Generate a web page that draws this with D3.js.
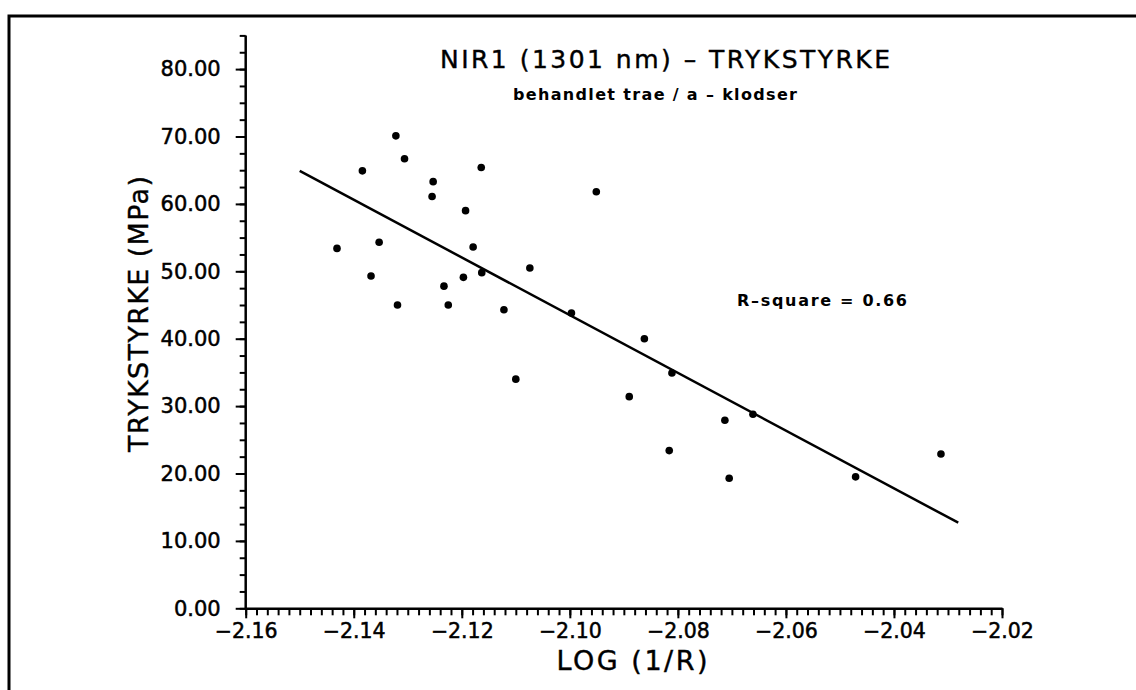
<!DOCTYPE html>
<html>
<head>
<meta charset="utf-8">
<script src="https://cdn.jsdelivr.net/npm/d3@7"></script>
<style>
    body { margin: 0; background: #fff; }
    svg { display: block; }
    text { font-family: "DejaVu Sans", sans-serif; fill: #000; }
</style>
</head>
<body>
<div id="chart"></div>
<script>
// log(1/R) values of the samples
var logR = [-2.1322, -2.1306, -2.1384, -2.1164, -2.1253, -2.1255, -2.1193, -2.0951,
    -2.1431, -2.1353, -2.1179, -2.1368, -2.1197, -2.1163, -2.1074, -2.1233,
    -2.1319, -2.1225, -2.1122, -2.0997, -2.0862, -2.1100, -2.0811, -2.0890,
    -2.0661, -2.0713, -2.0816, -2.0705, -2.0471, -2.0313];
// trykstyrke (MPa) of the samples
var strength = [70.1, 66.7, 64.9, 65.4, 63.3, 61.1, 59.0, 61.8,
    53.4, 54.3, 53.6, 49.3, 49.1, 49.8, 50.5, 47.8,
    45.0, 45.0, 44.3, 43.8, 40.0, 34.0, 34.9, 31.4,
    28.8, 27.9, 23.4, 19.3, 19.5, 22.9];

// regression line end points
var fitX = [-2.150, -2.0281];
var fitY = [64.9, 12.7];

var xTicks = [-2.16, -2.14, -2.12, -2.10, -2.08, -2.06, -2.04, -2.02];
var yTicks = [0, 10, 20, 30, 40, 50, 60, 70, 80];

var title = "NIR1  (1301  nm)  \u2013  TRYKSTYRKE";
var subtitle = "behandlet  trae  /  a  \u2013  klodser";
var rLabel = "R\u2013square  =  0.66";
var xLabel = "LOG  (1/R)";
var yLabel = "TRYKSTYRKE  (MPa)";

var width = 1136, height = 690;

var svg = d3.select("#chart").append("svg")
    .attr("width", width)
    .attr("height", height);

// outer frame (right / bottom edges are outside the picture)
svg.append("path")
    .attr("d", "M9,700 L9,16 L1140,16")
    .attr("fill", "none")
    .attr("stroke", "#000")
    .attr("stroke-width", 3);

var x = d3.scaleLinear().domain([-2.16, -2.02]).range([245.7, 1002]);
var y = d3.scaleLinear().domain([0, 85]).range([608.3, 35.4]);

// minor ticks
var xMinor = d3.range(0, 71).map(i => -2.16 + i * 0.002);
var yMinor = d3.range(0, 35).map(i => i * 2.5);
svg.append("g")
    .attr("transform", "translate(0," + y(0) + ")")
    .call(d3.axisBottom(x).tickValues(xMinor).tickSize(7).tickFormat("").tickSizeOuter(0))
    .call(g => g.select(".domain").remove());
svg.append("g")
    .attr("transform", "translate(" + x(-2.16) + ",0)")
    .call(d3.axisLeft(y).tickValues(yMinor).tickSize(6).tickFormat("").tickSizeOuter(0))
    .call(g => g.select(".domain").remove());

// major ticks + labels
var xAxis = svg.append("g")
    .attr("transform", "translate(0," + y(0) + ")")
    .call(d3.axisBottom(x).tickValues(xTicks).tickSize(10).tickPadding(5).tickSizeOuter(0).tickFormat(d3.format(".2f")));
var yAxis = svg.append("g")
    .attr("transform", "translate(" + x(-2.16) + ",0)")
    .call(d3.axisLeft(y).tickValues(yTicks).tickSize(10).tickPadding(15).tickSizeOuter(0).tickFormat(d3.format(".2f")));

svg.selectAll(".tick line").attr("stroke", "#000").attr("stroke-width", 2);
svg.selectAll(".domain").attr("stroke", "#000").attr("stroke-width", 2.5);
xAxis.selectAll("text")
    .attr("font-size", 20.5)
    .attr("stroke", "#000").attr("stroke-width", 0.5)
    .style("font-family", "DejaVu Sans");
yAxis.selectAll("text")
    .attr("font-size", 21)
    .attr("stroke", "#000").attr("stroke-width", 0.5)
    .style("font-family", "DejaVu Sans");

// y axis line runs to the top tick (85)
yAxis.select(".domain").attr("d", "M0," + y(85) + "V" + y(0));

// regression line
svg.append("path")
    .datum(d3.zip(fitX, fitY))
    .attr("d", d3.line().x(d => x(d[0])).y(d => y(d[1])))
    .attr("fill", "none")
    .attr("stroke", "#000")
    .attr("stroke-width", 2.5);

// samples
svg.append("g").selectAll("circle")
    .data(d3.zip(logR, strength))
    .enter()
    .append("circle")
    .attr("cx", d => x(d[0]))
    .attr("cy", d => y(d[1]))
    .attr("r", 3.8)
    .attr("fill", "#000");

// titles
svg.append("text")
    .attr("x", 665).attr("y", 68)
    .attr("text-anchor", "middle")
    .attr("font-size", 25)
    .attr("stroke", "#000").attr("stroke-width", 0.4)
    .attr("textLength", 450).attr("lengthAdjust", "spacing")
    .text(title);
svg.append("text")
    .attr("x", 655).attr("y", 100)
    .attr("text-anchor", "middle")
    .attr("font-size", 16).attr("font-weight", "bold")
    .attr("textLength", 284).attr("lengthAdjust", "spacing")
    .text(subtitle);
svg.append("text")
    .attr("x", 737).attr("y", 306)
    .attr("font-size", 16).attr("font-weight", "bold")
    .attr("textLength", 170).attr("lengthAdjust", "spacing")
    .text(rLabel);

// axis titles
svg.append("text")
    .attr("x", 632).attr("y", 670)
    .attr("text-anchor", "middle")
    .attr("font-size", 27)
    .attr("stroke", "#000").attr("stroke-width", 0.4)
    .attr("textLength", 151).attr("lengthAdjust", "spacing")
    .text(xLabel);
svg.append("text")
    .attr("transform", "translate(148,314) rotate(-90)")
    .attr("text-anchor", "middle")
    .attr("font-size", 27)
    .attr("stroke", "#000").attr("stroke-width", 0.4)
    .attr("textLength", 276).attr("lengthAdjust", "spacing")
    .text(yLabel);
</script>
</body>
</html>
